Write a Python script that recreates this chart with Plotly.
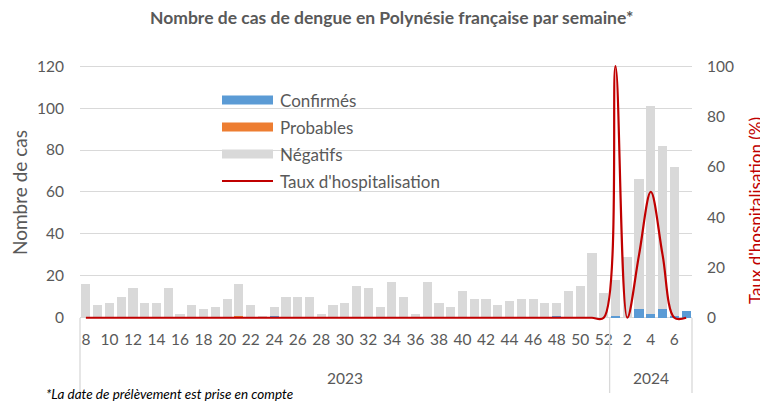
import plotly.graph_objects as go

# ---------------- data ----------------
weeks_2023 = [8, 9, 10, 11, 12, 13, 14, 15, 16, 17, 18, 19, 20, 21, 22, 23, 24, 25, 26, 27,
              28, 29, 30, 31, 32, 33, 34, 35, 36, 37, 38, 39, 40, 41, 42, 43, 44, 45, 46, 47,
              48, 49, 50, 51, 52]
weeks_2024 = [1, 2, 3, 4, 5, 6, 7]
years = ["2023", "2024"]

confirmes_2023 = [0, 0, 0, 0, 0, 0, 0, 0, 0, 0, 0, 0, 0, 0, 0, 0, 1, 0, 0, 0,
                  0, 0, 0, 0, 0, 0, 0, 0, 0, 0, 0, 0, 0, 0, 0, 0, 0, 0, 0, 0,
                  1, 0, 0, 0, 0]
confirmes_2024 = [1, 0, 4, 2, 4, 1, 3]

probables_2023 = [0, 0, 0, 0, 0, 0, 0, 0, 0, 0, 0, 0, 0, 1, 0, 0, 0, 0, 0, 0,
                  0, 0, 0, 0, 0, 0, 0, 0, 0, 0, 0, 0, 0, 0, 0, 0, 0, 0, 0, 0,
                  0, 0, 0, 0, 0]
probables_2024 = [0, 0, 0, 0, 0, 0, 0]

negatifs_2023 = [16, 6, 7, 10, 14, 7, 7, 14, 2, 6, 4, 5, 9, 15, 6, 1, 4, 10, 10, 10,
                 2, 6, 7, 15, 14, 5, 17, 10, 2, 17, 7, 5, 13, 9, 9, 6, 8, 9, 9, 7,
                 6, 13, 15, 31, 12]
negatifs_2024 = [17, 29, 62, 99, 78, 71, 0]

taux_2023 = [0] * 45
taux_2024 = [100, 0, 25, 50, 25, 0, 0]

left_ticks = [0, 20, 40, 60, 80, 100, 120]
right_ticks = [0, 20, 40, 60, 80, 100]

# ---------------- build ----------------
weeks = weeks_2023 + weeks_2024
confirmes = confirmes_2023 + confirmes_2024
probables = probables_2023 + probables_2024
negatifs = negatifs_2023 + negatifs_2024
taux = taux_2023 + taux_2024
n = len(weeks)
xpos = list(range(n))
year_groups = [(years[0], len(weeks_2023)), (years[1], len(weeks_2024))]

tick_vals = [i for i, w in zip(xpos, weeks) if w % 2 == 0]
tick_text = [str(w) for w in weeks if w % 2 == 0]

GRAY_TXT = "#595959"
GRID = "#D9D9D9"
RED = "#C00000"
FONT = "Lato"

# the page body has an 8px margin: the figure is sized/offset to fill 768x403
OFF = 8
W, H = 768 - OFF, 403 - OFF
ML, MR, MT, MB = 72, 76, 55, 80
YMIN, YMAX = -2.5, 121.5
pw, ph = W - ML - MR, H - MT - MB


def px_x(px):
    return (px - OFF - ML) / pw


def px_y(py):
    return (H - MB - (py - OFF)) / ph


fig = go.Figure()
fig.add_trace(go.Bar(x=xpos, y=confirmes, name="Confirmés", marker_color="#5B9BD5",
                     marker_line_width=0, showlegend=False))
fig.add_trace(go.Bar(x=xpos, y=probables, name="Probables", marker_color="#ED7D31",
                     marker_line_width=0, showlegend=False))
fig.add_trace(go.Bar(x=xpos, y=negatifs, name="Négatifs", marker_color="#D9D9D9",
                     marker_line_width=0, showlegend=False))
fig.add_trace(go.Scatter(x=xpos, y=taux, name="Taux d'hospitalisation", yaxis="y2",
                         mode="lines", line=dict(color=RED, width=2.2, shape="spline",
                                                 smoothing=1.0),
                         showlegend=False))

shapes = []
annotations = []


def ann(text, x, y, size, color=GRAY_TXT, xanchor="center", yanchor="middle", angle=0):
    annotations.append(dict(text=text, xref="paper", yref="paper", x=x, y=y,
                            xanchor=xanchor, yanchor=yanchor, showarrow=False,
                            textangle=angle, borderpad=0,
                            font=dict(family=FONT, size=size, color=color)))


# category separators (x axis group lines)
bounds = [0]
for _, cnt in year_groups:
    bounds.append(bounds[-1] + cnt)
for b in bounds:
    xp = b / n
    shapes.append(dict(type="line", xref="paper", yref="paper", x0=xp, x1=xp,
                       y0=px_y(318), y1=px_y(393), line=dict(color=GRID, width=1.3)))
# year labels
for (yr, cnt), b0 in zip(year_groups, bounds[:-1]):
    ann(yr, (b0 + cnt / 2) / n, px_y(378), 15.5)

# manual legend
leg_items = [("Confirmés", "#5B9BD5", "bar", 100), ("Probables", "#ED7D31", "bar", 127),
             ("Négatifs", "#D9D9D9", "bar", 154), ("Taux d'hospitalisation", RED, "line", 181)]
for label, col, kind, cy in leg_items:
    if kind == "bar":
        shapes.append(dict(type="rect", xref="paper", yref="paper",
                           x0=px_x(222), x1=px_x(273), y0=px_y(cy - 4.5), y1=px_y(cy + 4.5),
                           fillcolor=col, line=dict(width=0)))
    else:
        shapes.append(dict(type="line", xref="paper", yref="paper",
                           x0=px_x(222), x1=px_x(273), y0=px_y(cy), y1=px_y(cy),
                           line=dict(color=col, width=2)))
    ann(label, px_x(279), px_y(cy), 17, xanchor="left")

# axis titles
ann("Nombre de cas", px_x(19), px_y(192), 19, angle=-90)
ann("Taux d'hospitalisation (%)", px_x(755), px_y(211), 17, color=RED, angle=-90)
# title
ann("<b>Nombre de cas de dengue en Polynésie française par semaine*</b>",
    px_x(391), px_y(18), 17.5)
# footnote
ann("<i>*La date de prélèvement est prise en compte</i>", px_x(45), px_y(394), 13.5,
    color="#000000", xanchor="left")

fig.update_layout(
    width=W, height=H,
    margin=dict(l=ML, r=MR, t=MT, b=MB, pad=0, autoexpand=False),
    paper_bgcolor="white", plot_bgcolor="white",
    barmode="stack", bargap=0.22,
    font=dict(family=FONT, color=GRAY_TXT),
    xaxis=dict(range=[-0.5, n - 0.5], tickmode="array", tickvals=tick_vals,
               ticktext=tick_text, showgrid=False, zeroline=False, showline=False,
               ticks="", tickfont=dict(size=15.5, color=GRAY_TXT), ticklabelstandoff=5),
    yaxis=dict(range=[YMIN, YMAX], tickmode="array", tickvals=left_ticks,
               showgrid=True, gridcolor=GRID, gridwidth=1.3, zeroline=False,
               showline=False, ticks="", tickfont=dict(size=15.5, color=GRAY_TXT),
               ticklabelstandoff=15),
    yaxis2=dict(range=[YMIN / 1.2, YMAX / 1.2], overlaying="y", side="right",
                tickmode="array", tickvals=right_ticks, showgrid=False, zeroline=False,
                showline=False, ticks="", tickfont=dict(size=15.5, color=GRAY_TXT),
                ticklabelstandoff=14),
    shapes=shapes, annotations=annotations,
)

fig.write_html("out.html")
